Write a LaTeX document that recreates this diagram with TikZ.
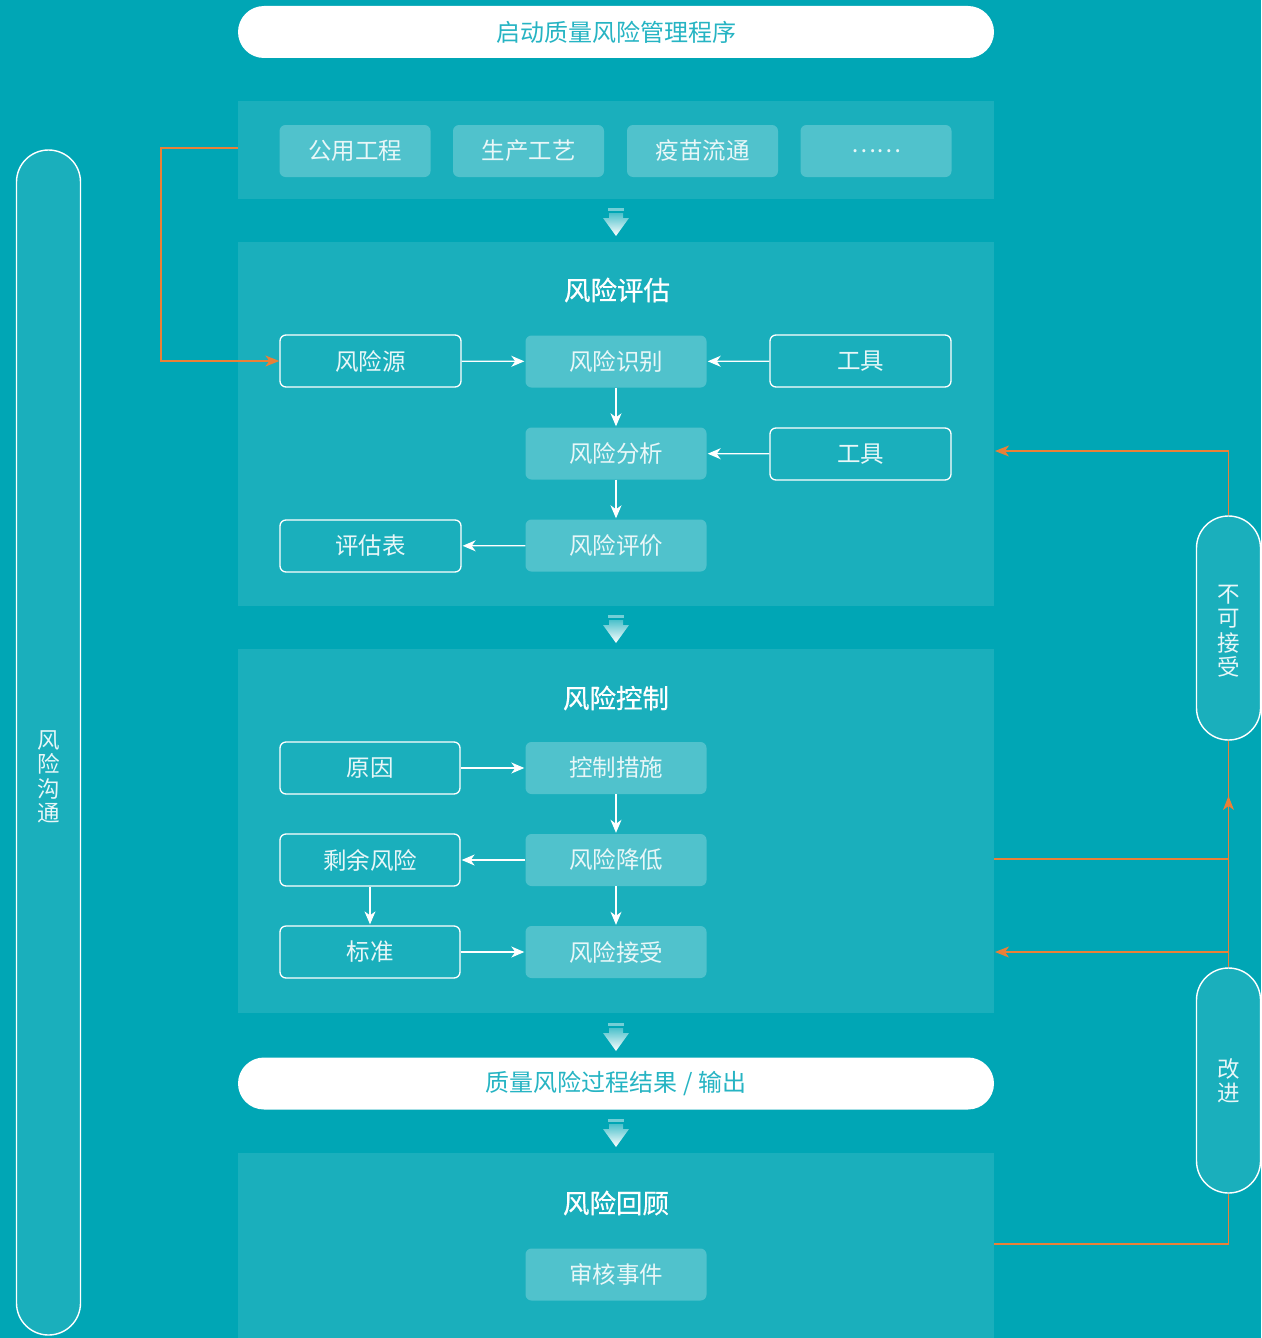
\documentclass[tikz,border=0pt]{standalone}
\usepackage{fontspec}
\setmainfont{Noto Sans CJK SC}
\newfontfamily\headfont[FakeBold=0.6]{Noto Sans CJK SC}
\usetikzlibrary{arrows.meta}
\definecolor{bg}{RGB}{0,166,181}
\definecolor{labelc}{RGB}{232,247,248}
\definecolor{pilltext}{RGB}{38,180,195}
\definecolor{flow}{RGB}{234,128,56}

\tikzset{
  panel/.style={fill=white, fill opacity=0.1, draw=none, inner sep=0pt, outer sep=0pt, anchor=north west},
  labelfont/.style={font=\fontsize{23.5}{26}\selectfont},
  solidbox/.style={fill=white, fill opacity=0.24, text opacity=1, rounded corners=6pt,
    minimum width=181pt, minimum height=52pt, inner sep=0pt, text=labelc, labelfont},
  linebox/.style={draw=white, line width=1.3pt, rounded corners=6pt,
    minimum width=181pt, minimum height=52pt, inner sep=0pt, text=labelc, labelfont},
  topbox/.style={fill=white, fill opacity=0.24, text opacity=1, rounded corners=6pt,
    minimum width=151pt, minimum height=52pt, inner sep=0pt, text=labelc, labelfont},
  pill/.style={fill=white, rounded corners=26pt, minimum width=756pt, minimum height=52pt,
    inner sep=0pt, text=pilltext, font=\fontsize{24}{28}\selectfont},
  sidepill/.style={draw=white, line width=1.4pt, fill=white, fill opacity=0.1, text opacity=1,
    rounded corners=32pt, minimum width=64pt, inner sep=0pt},
  vtext/.style={text=labelc, align=center, font=\fontsize{22.5}{24.5}\selectfont},
  heading/.style={text=white, font=\fontsize{26.5}{30}\selectfont\headfont},
  link/.style={draw=white, line width=1.2pt, -{Stealth[length=13pt,width=11pt,inset=4pt]}, shorten >=1pt},
  flowline/.style={draw=flow, line width=1.1pt},
  flowarrow/.style={flowline, -{Stealth[length=14pt,width=11pt,inset=4pt]}},
  blockdown/.pic={
    \fill[white, fill opacity=0.45] (-8,0) rectangle (8,3);
    \shade[top color=white!30!bg, bottom color=white]
      (-7,5) -- (7,5) -- (7,10) -- (13,10) -- (0,28) -- (-13,10) -- (-7,10) -- cycle;
  }
}

\begin{document}
\begin{tikzpicture}[x=1pt,y=-1pt]
\useasboundingbox (0,0) rectangle (1261,1338);
\fill[bg] (0,0) rectangle (1261,1338);

% stage panels
\node[panel, minimum width=756pt, minimum height=98pt]  (p1) at (238,101) {};
\node[panel, minimum width=756pt, minimum height=364pt] (p2) at (238,242) {};
\node[panel, minimum width=756pt, minimum height=364pt] (p3) at (238,649) {};
\node[panel, minimum width=756pt, minimum height=185pt] (p4) at (238,1153) {};

% start and output pills
\node[pill] (start) at (616,32) {启动质量风险管理程序};
\node[pill] (output) at (616,1083.5) {质量风险过程结果 / 输出};

% sources
\node[topbox] (s1) at (355,151) {公用工程};
\node[topbox] (s2) at (528.5,151) {生产工艺};
\node[topbox] (s3) at (702.5,151) {疫苗流通};
\node[topbox] (s4) at (876,151) {……};

% downward markers between stages
\pic at (616,208) {blockdown};
\pic at (616,615) {blockdown};
\pic at (616,1023) {blockdown};
\pic at (616,1119) {blockdown};

% risk assessment
\node[heading] (h2) at (617,290) {风险评估};
\node[linebox]  (src)   at (370.5,361) {风险源};
\node[solidbox] (ident) at (616,361.5) {风险识别};
\node[linebox]  (tool1) at (860.5,361) {工具};
\node[solidbox] (anal)  at (616,453.5) {风险分析};
\node[linebox]  (tool2) at (860.5,454) {工具};
\node[linebox]  (form)  at (370.5,546) {评估表};
\node[solidbox] (eval)  at (616,545.5) {风险评价};

\draw[link] (src) -- (ident);
\draw[link] (tool1) -- (ident);
\draw[link] (ident) -- (anal);
\draw[link] (tool2) -- (anal);
\draw[link] (anal) -- (eval);
\draw[link] (eval) -- (form);

% risk control
\node[heading] (h3) at (616,698) {风险控制};
\node[linebox, minimum width=180pt]  (cause)  at (370,768) {原因};
\node[solidbox] (ctrl)   at (616,768) {控制措施};
\node[linebox, minimum width=180pt]  (resid)  at (370,860) {剩余风险};
\node[solidbox] (reduce) at (616,860) {风险降低};
\node[linebox, minimum width=180pt]  (std)    at (370,952) {标准};
\node[solidbox] (accept) at (616,952) {风险接受};

\draw[link] (cause) -- (ctrl);
\draw[link] (ctrl) -- (reduce);
\draw[link] (reduce) -- (resid);
\draw[link] (resid) -- (std);
\draw[link] (std) -- (accept);
\draw[link] (reduce) -- (accept);

% risk review
\node[heading] (h4) at (616,1203) {风险回顾};
\node[solidbox] (audit) at (616,1274.5) {审核事件};

% communication bar
\node[sidepill, minimum height=1185pt] (comm) at (48.5,742.5) {};
\node[vtext] (commtext) at (49,777) {风\\险\\沟\\通};

% feedback pills
\node[sidepill, minimum height=224pt] (reject) at (1228.5,628) {};
\node[vtext] (rejecttext) at (1229,631) {不\\可\\接\\受};
\node[sidepill, minimum height=225pt] (improve) at (1228.5,1080.5) {};
\node[vtext] (improvetext) at (1229,1081) {改\\进};

% feedback routes
\coordinate (srcout) at (238,148);
\coordinate (lturn1) at (161,148);
\coordinate (lturn2) at (161,361);
\draw[flowarrow] (srcout) -- (lturn1) -- (lturn2) -- (src.west);

\coordinate (analin)   at (995,451);
\coordinate (rtop)     at (1228.5,451);
\coordinate (redout)   at (994,859);
\coordinate (redjoin)  at (1228.5,859);
\coordinate (uptip)    at (1228.5,796);
\coordinate (accin)    at (995,952);
\coordinate (accjoin)  at (1228.5,952);
\coordinate (revout)   at (994,1244);
\coordinate (revjoin)  at (1228.5,1244);

\draw[flowarrow] (reject.north) -- (rtop) -- (analin);
\draw[flowline] (reject.south) -- (improve.north);
\draw[flowline] (redout) -- (redjoin);
\draw[flowarrow] (redjoin) -- (uptip);
\draw[flowarrow] (accjoin) -- (accin);
\draw[flowline] (revout) -- (revjoin) -- (improve.south);
\end{tikzpicture}
\end{document}
